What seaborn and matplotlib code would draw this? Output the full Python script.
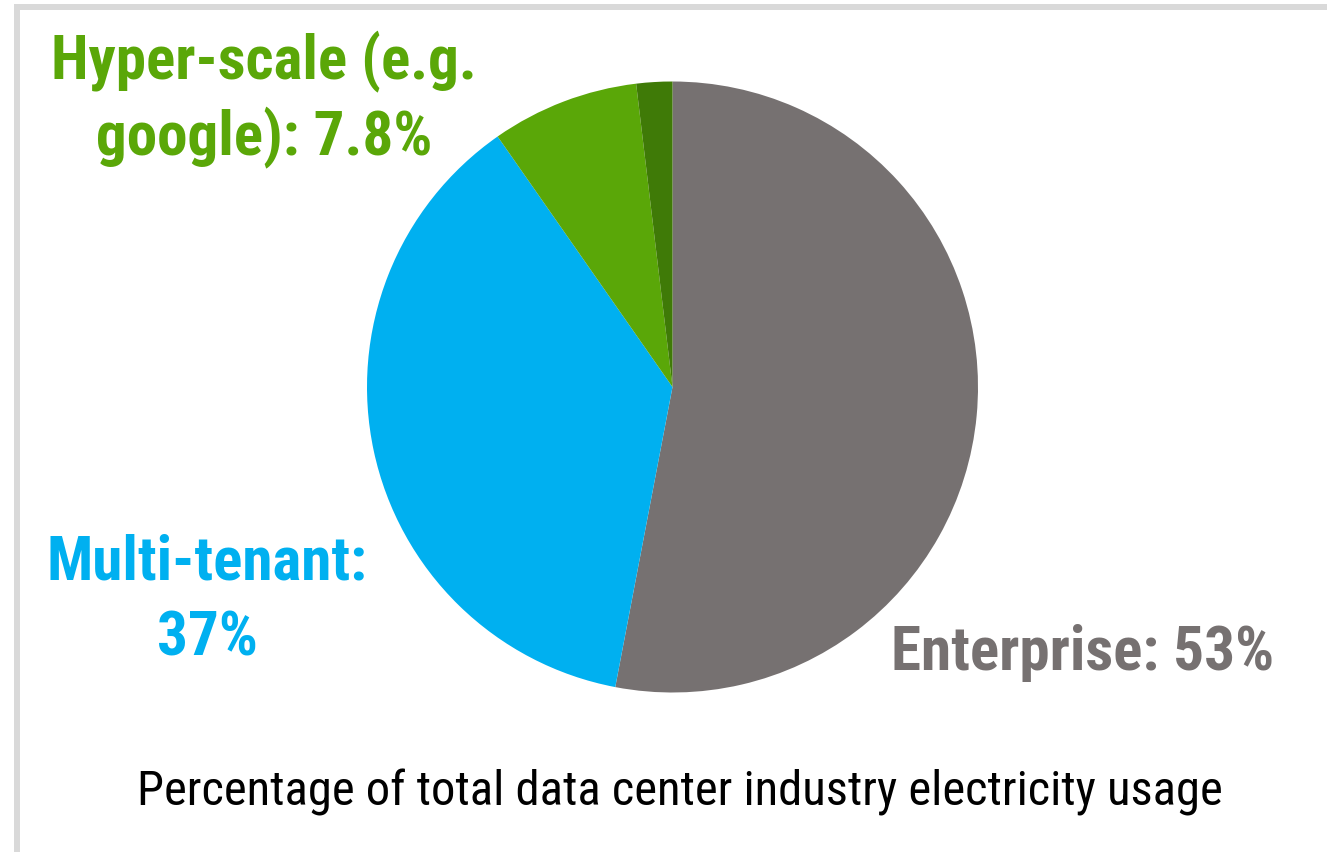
import matplotlib
matplotlib.use("Agg")
import matplotlib.pyplot as plt
import seaborn as sns
from matplotlib import font_manager
from matplotlib.patches import Rectangle

# slice data, clockwise from 12 o'clock
segments = ["Enterprise", "Multi-tenant", "Hyper-scale", "Other"]
shares = [53.0, 37.3, 7.8, 1.9]
slice_colors = ["#767171", "#00B0F0", "#5AA708", "#3F7A07"]

# label text (one entry per line)
hyper_lines = ["Hyper-scale (e.g.", "google): 7.8%"]
multi_lines = ["Multi-tenant:", "37%"]
enterprise_label = "Enterprise: 53%"
caption = "Percentage of total data center industry electricity usage"

sns.set_theme(style="white")
names = {f.name for f in font_manager.fontManager.ttflist}
narrow = next((n for n in ["Liberation Sans Narrow", "Roboto Condensed", "Archivo Narrow",
                           "PT Sans Narrow", "Liberation Sans"] if n in names), "DejaVu Sans")
plt.rcParams["font.family"] = [narrow, "DejaVu Sans"]

W, H = 1327, 852
fig = plt.figure(figsize=(W / 100, H / 100), dpi=100)
fig.patch.set_facecolor("white")

# light grey frame on top and left
fig.add_artist(Rectangle((14 / W, 1 - 10 / H), 1 - 14 / W, 6 / H,
                         transform=fig.transFigure, color="#d9d9d9", lw=0))
fig.add_artist(Rectangle((14 / W, 0), 6 / W, 1 - 4 / H,
                         transform=fig.transFigure, color="#d9d9d9", lw=0))

# pie: centre (672, 387) px, radius 305 px
cx, cy, r = 672.5, 387, 305.5
ax = fig.add_axes([(cx - r) / W, (H - cy - r) / H, 2 * r / W, 2 * r / H])
ax.pie(shares, colors=slice_colors, startangle=90, counterclock=False,
       wedgeprops=dict(linewidth=0))
ax.set_xlim(-1, 1)
ax.set_ylim(-1, 1)
ax.set_aspect("equal")
ax.axis("off")


def put(x, y, s, color, size, weight="bold"):
    fig.text(x / W, 1 - y / H, s, color=color, fontsize=size, weight=weight,
             ha="center", va="baseline")


put(264, 79, hyper_lines[0], "#5AA708", 44)
put(264, 155, hyper_lines[1], "#5AA708", 44)
put(207, 579, multi_lines[0], "#00B0F0", 44)
put(207, 655, multi_lines[1], "#00B0F0", 44)
put(1083, 670, enterprise_label, "#767171", 44)
put(680, 805, caption, "black", 35, weight="normal")

fig.savefig("out.png", dpi=100)
